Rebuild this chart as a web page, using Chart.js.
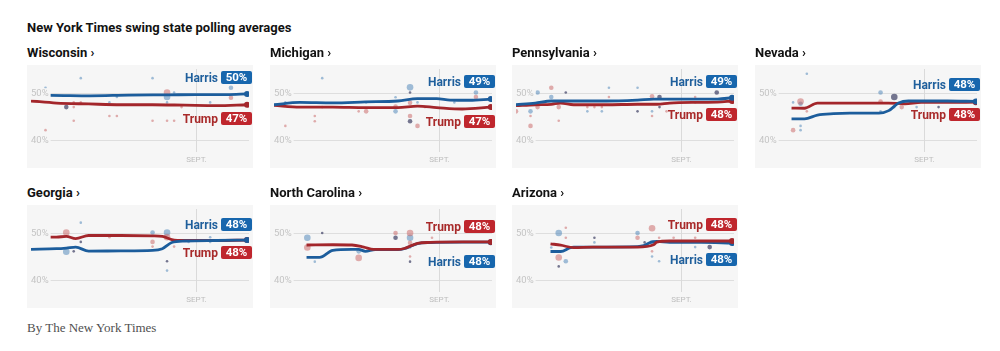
<!DOCTYPE html>
<html><head><meta charset="utf-8">
<script src="https://cdn.jsdelivr.net/npm/chart.js@4"></script>
<style>
html,body{margin:0;padding:0;background:#fff}
body{width:1000px;height:351px;overflow:hidden;position:relative;font-family:Roboto,"Liberation Sans",sans-serif}
.t{position:absolute;font-weight:700;color:#121212;white-space:nowrap;line-height:13px;font-size:13px}
.panel{position:absolute;width:226px;height:103px;background:#f6f6f6}
.panel canvas{position:absolute;left:0;top:0}
.lab{position:absolute;right:1px;height:13px;display:flex;align-items:center;font-weight:700;font-size:12px;white-space:nowrap}
.lab .n{margin-right:3px}
.lab .b{color:#fff;border-radius:2px;height:13px;line-height:13px;font-size:11.5px;width:31px;text-align:center}
.h .n{color:#1f5f9c}.h .b{background:#1766ad}
.r .n{color:#a82a2a}.r .b{background:#bf262d}
.foot{position:absolute;left:27px;top:320px;font-family:"Liberation Serif","DejaVu Serif",serif;font-size:13px;color:#505050}
</style></head><body>
<div class="t" style="left:27px;top:21px">New York Times swing state polling averages</div>
<div id="root"></div>
<div class="foot">By The New York Times</div>
<script>
// ---- data (x = days since July 21; y = percent) ----
const states = ["Wisconsin","Michigan","Pennsylvania","Nevada","Georgia","North Carolina","Arizona"];
const harrisFinal = [50,49,49,48,48,48,48];
const trumpFinal  = [47,47,48,48,48,48,48];
const yTicks = [40,50];
const septDay = 42;
const septLabel = "SEPT.";

const wiHarris = [[0,49.7],[5,49.7],[15,49.6],[25,49.75],[35,49.8],[42,49.85],[50,49.85],[55.1,50.0]];
const wiTrump  = [[0,48.5],[6.5,48.06],[14.7,47.87],[22.9,47.7],[31,47.7],[39.2,47.6],[47.3,47.5],[55.1,47.7]];
const wiBlue = [[3.7,51.3,1],[12.7,53.35,1],[20,48.2,1],[21.9,49.35,1],[31,53.35,1],[34.7,49.35,3],[34.7,48.2,1],[36.5,50.3,1],[45.7,48.2,1],[51,51.3,2]];
const wiRed  = [[3.7,42.3,1],[10.9,47.2,1],[10.9,48.2,1],[10.9,44.3,1],[12.7,48.2,1],[20,45.3,1],[21.9,45.3,1],[31,44.3,1],[34.7,50.3,3],[34.7,44.3,1],[36.5,44.3,1],[38.4,47.2,1],[51,49.2,2]];
const wiDark = [[9,47.2,2]];

const miHarris = [[0,47.7],[6.6,48.2],[15,48.1],[23.3,48.3],[31.6,48.5],[36.6,49.0],[41.5,49.0],[44.9,48.7],[49.9,48.65],[55.3,48.9]];
const miTrump  = [[0,47.55],[6.6,47.2],[15,47.2],[23.3,47.1],[31.6,47.1],[36.6,47.4],[41.5,47.1],[48,46.8],[55.3,47.2]];
const miBlue = [[2.9,48.2,1],[12.3,53.35,1],[23.5,48.2,1],[31,46.3,2],[31,49.3,1],[34.7,51.4,3],[36.6,48.2,1],[46,48.2,1],[51.5,50.3,2]];
const miRed  = [[2.9,43.2,1],[10.4,45.3,1],[10.4,44.2,1],[12.3,47.2,1],[21.6,46.3,1],[23.5,46.3,2],[31,47.3,2],[34.7,48.1,2],[34.7,45.3,2],[36.6,43.2,2],[38.5,47.2,1],[51.5,49.35,2]];
const miDark = [[34.7,50.3,1],[34.7,44.2,2]];

const paHarris = [[0,47.7],[4.9,48.06],[9,48.5],[14.7,48.5],[22.9,48.5],[31,48.7],[35.1,48.9],[39.2,48.9],[45.7,48.9],[51.4,48.9],[55.1,49.2]];
const paTrump  = [[0,47.5],[4.9,47.7],[9,47.8],[11.4,48.06],[14.7,47.7],[22.9,47.7],[31,47.8],[36,47.8],[39.2,48.06],[45.7,48.2],[51.4,48.25],[55.1,48.5]];
const paBlue = [[3.7,46.3,2],[5.5,50.3,2],[9,49.35,2],[10.9,48.2,1],[18.2,46.3,1],[21.9,46.3,1],[23.7,51.3,1],[31,51.3,1],[34.7,46.3,1]];
const paRed  = [[0,46.3,2],[3.7,45.3,1],[3.7,43.2,2],[5.5,47.2,2],[9,51.3,2],[10.9,47.2,2],[10.9,44.3,1],[18.2,47.2,1],[20,47.2,1],[21.9,47.2,1],[23.7,49.35,1],[34.7,49.5,2],[34.7,45.3,1],[38.4,46.3,1],[45.7,49.35,1],[45.7,48.2,1]];
const paDark = [[12.7,50.3,1],[31,46.3,1],[36.6,49.35,2],[36.6,47.2,1],[51.2,50.3,2]];

const nvHarris = [[8.3,44.7],[11.6,44.7],[14.9,45.5],[19,45.8],[23.2,45.9],[30.6,45.9],[33.1,46.45],[35.6,48.06],[38.1,48.5],[48,48.5],[55.3,48.4]];
const nvTrump  = [[8.3,47.0],[11.6,46.95],[14.9,48.06],[19,48.06],[33,48.06],[37.2,47.9],[41.4,48.2],[48,48.2],[55.3,48.25]];
const nvBlue = [[8.7,48.2,1],[10.6,47.9,2],[10.6,43.2,1],[10.6,42.3,1],[12.2,54.3,1],[31,50.3,2],[31,46.3,1],[34.5,47.2,1],[40.2,47.2,1]];
const nvRed  = [[8.7,42.3,2],[10.6,48.4,3],[12.2,46.3,1],[31,48.4,2],[36.4,47.2,2]];
const nvDark = [[34.5,49.35,3],[45.8,47.2,1]];

const gaHarris = [[0,46.73],[6.5,46.86],[9,47.0],[11.4,47.2],[14.7,46.34],[22.9,46.4],[31,46.5],[33.5,46.86],[35.9,48.17],[39.2,48.5],[47.3,48.6],[55.1,48.7]];
const gaTrump  = [[0,49.35],[6.5,49.3],[9,49.5],[11.4,49.0],[14.7,49.67],[22.9,49.67],[31,49.6],[33.5,49.5],[35.9,48.8],[39.2,48.6],[47.3,48.6],[55.1,48.7]];
const gaBlue = [[9,46.2,3],[12.7,52.4,1],[31,50.3,2],[34.7,50.3,3],[34.7,42.2,1],[40.2,48.3,1],[45.7,49.3,1],[45.7,48.3,1]];
const gaRed  = [[9,50.3,3],[20,49.3,1],[31,48.3,2],[31,47.3,1],[34.7,49.3,3],[36.5,47.3,1]];
const gaDark = [[10.9,46.3,1],[12.7,48.3,1],[34.7,44.2,1]];

const ncHarris = [[8.3,45.0],[11.6,45.0],[15,46.5],[19.9,46.7],[21.6,46.7],[23.3,46.3],[25.8,46.65],[31.6,46.65],[33.2,46.85],[36.6,47.95],[39.9,48.15],[48.2,48.25],[55.3,48.25]];
const ncTrump  = [[8.3,47.65],[15,47.7],[19.9,47.65],[22.9,47.2],[25.4,46.7],[31.6,46.7],[33.2,46.9],[36.6,48.0],[39.9,48.2],[48.2,48.3],[55.3,48.3]];
const ncBlue = [[8.5,49.2,3],[10.4,44.1,1],[21.6,46.3,2],[34.7,49.2,3],[34.7,47.1,1]];
const ncRed  = [[8.5,47.1,3],[21.6,44.9,3],[31,50.2,2],[34.7,50.2,3],[34.7,48.1,2],[34.7,45.2,1],[40.3,49.2,1]];
const ncDark = [[12.3,50.2,1],[31,49.2,2],[34.7,44.1,1]];

const azHarris = [[8.8,46.26],[11.4,46.26],[13.9,47.1],[14.7,47.2],[19.6,47.2],[31,47.3],[32.6,47.5],[34.3,48.2],[35.9,48.4],[39.2,48.2],[47.3,48.2],[55.1,48.06]];
const azTrump  = [[8.8,47.9],[11.4,47.6],[14.7,47.1],[19.6,47.2],[31,47.2],[35.1,47.7],[35.9,48.26],[39.2,48.5],[47.3,48.5],[55.1,48.5]];
const azBlue = [[9,47.1,1],[10.9,50.2,3],[12.7,44.2,2],[20,48.2,1],[31,50.2,2],[34.7,48.2,2],[34.7,45.2,1],[36.5,44.2,1],[45.7,47.2,1]];
const azRed  = [[10.9,45.0,3],[12.7,51.3,1],[12.7,49.2,1],[31,49.2,2],[34.7,51.2,3],[34.7,46.3,1],[36.5,49.2,1],[40.2,49.2,1],[45.7,49.2,1]];
const azDark = [[10.9,43.1,1],[20,49.2,1],[32.8,48.2,1],[49.4,47.2,2]];

// ---- layout / style ----
const colLeft = [27,270,512,755];
const rowTop = [65,205];
const titleTop = [46,186];
const PW = 226, PH = 103;
const BLUE = '#1c5d9c', RED = '#a3262b';
const DOT = {blue:'rgba(70,128,182,0.5)', red:'rgba(200,95,95,0.5)', dark:'rgba(72,74,108,0.75)'};
const RAD = {1:1.3, 2:2.3, 3:3.3};

const panels = [
  {h:wiHarris,t:wiTrump,b:wiBlue,r:wiRed,d:wiDark,hTop:6,tTop:47,harrisOnTop:true},
  {h:miHarris,t:miTrump,b:miBlue,r:miRed,d:miDark,hTop:10,tTop:50,harrisOnTop:true},
  {h:paHarris,t:paTrump,b:paBlue,r:paRed,d:paDark,hTop:10,tTop:43,harrisOnTop:true},
  {h:nvHarris,t:nvTrump,b:nvBlue,r:nvRed,d:nvDark,hTop:13,tTop:43,harrisOnTop:true},
  {h:gaHarris,t:gaTrump,b:gaBlue,r:gaRed,d:gaDark,hTop:13,tTop:41,harrisOnTop:true},
  {h:ncHarris,t:ncTrump,b:ncBlue,r:ncRed,d:ncDark,hTop:50,tTop:15,harrisOnTop:false},
  {h:azHarris,t:azTrump,b:azBlue,r:azRed,d:azDark,hTop:48,tTop:13,harrisOnTop:false}
];

const septPlugin = {
  id:'sept',
  beforeDatasetsDraw(c){
    const ctx=c.ctx, a=c.chartArea;
    const x=Math.round(c.scales.x.getPixelForValue(septDay))+0.5;
    ctx.save();
    ctx.strokeStyle='#dadada'; ctx.lineWidth=1;
    ctx.beginPath(); ctx.moveTo(x,a.top); ctx.lineTo(x,a.bottom-12); ctx.stroke();
    ctx.fillStyle='#bdbdbd'; ctx.font='8px Roboto, sans-serif';
    ctx.textAlign='center'; ctx.textBaseline='alphabetic';
    ctx.fillText(septLabel,x,a.bottom-2);
    ctx.restore();
  }
};

function pollSet(arr,col){
  return {type:'scatter',data:arr.map(p=>({x:p[0],y:p[1]})),
    pointRadius:arr.map(p=>RAD[p[2]]),backgroundColor:DOT[col],borderWidth:0,pointHoverRadius:0,showLine:false,order:10};
}
function lineSet(arr,col,order){
  const n=arr.length;
  return {type:'scatter',data:arr.map(p=>({x:p[0],y:p[1]})),showLine:true,
    borderColor:col,backgroundColor:col,borderWidth:2.8,cubicInterpolationMode:'monotone',
    pointRadius:arr.map((p,i)=>i===n-1?3:0),pointBorderWidth:0,order:order};
}

const root=document.getElementById('root');
panels.forEach((p,i)=>{
  const col=i%4, row=Math.floor(i/4);
  const L=colLeft[col], T=rowTop[row];
  const title=document.createElement('div');
  title.className='t'; title.style.left=L+'px'; title.style.top=titleTop[row]+'px';
  title.textContent=states[i]+' \u203a';
  root.appendChild(title);
  const pan=document.createElement('div');
  pan.className='panel'; pan.style.left=L+'px'; pan.style.top=T+'px';
  const cv=document.createElement('canvas'); cv.width=PW; cv.height=PH;
  pan.appendChild(cv);
  const mk=(cls,name,val,top)=>{
    const d=document.createElement('div'); d.className='lab '+cls; d.style.top=top+'px';
    d.innerHTML='<span class="n">'+name+'</span><span class="b">'+val+'%</span>';
    pan.appendChild(d);
  };
  mk('h','Harris',harrisFinal[i],p.hTop);
  mk('r','Trump',trumpFinal[i],p.tTop);
  root.appendChild(pan);

  new Chart(cv,{
    type:'scatter',
    data:{datasets:[
      pollSet(p.r,'red'),pollSet(p.b,'blue'),pollSet(p.d,'dark'),
      lineSet(p.t,RED,p.harrisOnTop?2:1),
      lineSet(p.h,BLUE,p.harrisOnTop?1:2)
    ]},
    options:{
      responsive:false,animation:false,
      layout:{padding:0},
      events:[],
      plugins:{legend:{display:false},tooltip:{enabled:false}},
      scales:{
        x:{type:'linear',display:false,min:0,max:55.6},
        y:{type:'linear',min:35.1,max:55.3,position:'left',
          border:{display:false},
          grid:{color:'#dedede',drawTicks:false,lineWidth:1},
          afterBuildTicks:s=>{s.ticks=yTicks.map(v=>({value:v}));},
          afterFit:s=>{s.paddingTop=0;s.paddingBottom=0;s.width=0;},
          ticks:{mirror:true,padding:0,z:1,color:'#c4c4c4',
            font:{size:9.5,family:'Roboto'},
            callback:v=>v+'%',
            showLabelBackdrop:true,backdropColor:'#f6f6f6',
            backdropPadding:{left:0,right:2,top:0,bottom:0}}
        }
      }
    },
    plugins:[septPlugin]
  });
});
</script>
</body></html>
